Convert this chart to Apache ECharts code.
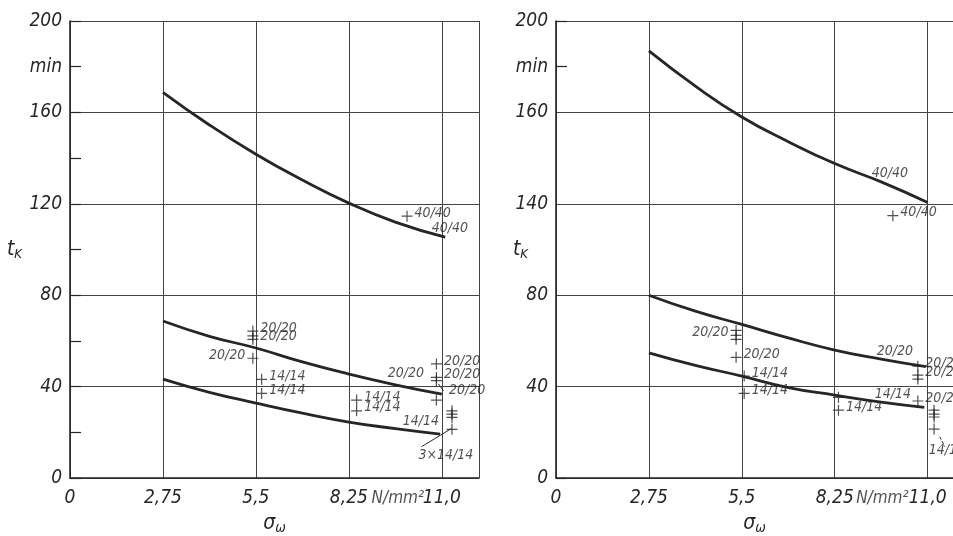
<!DOCTYPE html>
<html><head><meta charset="utf-8">
<script src="https://cdn.jsdelivr.net/npm/echarts@6/dist/echarts.min.js"></script>
<style>html,body{margin:0;padding:0;background:#fff}#c{width:953px;height:536px}</style>
</head><body><div id="c"></div>
<script>
// ---------- tick labels ----------
const xTickValues = [0, 2.75, 5.5, 8.25, 11.0];
const xTickLabels = ['0', '2,75', '5,5', '8,25', '11,0'];
const yTickValues = [0, 40, 80, 120, 160, 200];
const leftYTickLabels = ['0', '40', '80', '120', '160', '200'];
const rightYTickLabels = ['0', '40', '80', '140', '160', '200'];
const unitTickValue = 180;
const unitTickLabel = 'min';
const xUnitLabel = 'N/mm²';

// ---------- left panel ----------
const leftCurve4040 = [[2.75,168.8],[4.125,154.5],[5.5,141.7],[6.875,130.4],[8.25,120.3],[9.625,112.0],[11.1,105.4]];
const leftCurve2020 = [[2.75,68.7],[4.125,62.0],[5.5,56.9],[6.875,50.8],[8.25,45.5],[9.625,40.8],[11.0,36.7]];
const leftCurve1414 = [[2.75,43.3],[4.125,37.5],[5.5,32.8],[6.875,28.4],[8.25,24.5],[9.625,21.6],[10.95,19.2]];
// measured points: [x, y, label]
const leftPointsRight = [
  [9.97,114.6,'40/40'],
  [5.41,64.3,'20/20'],[5.41,62.2,''],[5.41,60.7,'20/20'],
  [5.67,43.2,'14/14'],[5.67,37.0,'14/14'],
  [8.48,34.1,'14/14'],[8.48,29.4,'14/14'],
  [10.84,49.9,'20/20'],[10.84,44.0,'20/20'],[10.84,42.6,''],[10.84,34.1,''],
  [11.3,29.4,''],[11.3,28.0,''],[11.3,26.5,''],[11.3,21.3,'']
];
const leftPointsLeft = [[5.41,52.4,'20/20']];
const leftNotes = [[11.24,109.3,'40/40'],[9.94,45.9,'20/20'],[10.38,24.9,'14/14'],[11.12,10.0,'3×14/14'],[11.75,38.5,'20/20']];
const leftLeaders = [[[10.4,13.7],[11.29,21.7]], [[10.9,41.2],[11.05,38.2]]];

// ---------- right panel ----------
const rightCurve4040 = [[2.75,186.9],[4.125,171.5],[5.5,158.0],[6.875,147.2],[8.25,137.6],[9.625,129.6],[11.0,120.6]];
const rightCurve2020 = [[2.75,80.0],[4.125,73.0],[5.5,67.2],[6.875,61.3],[8.25,56.0],[9.625,52.0],[10.95,48.7]];
const rightCurve1414 = [[2.75,54.8],[4.125,49.3],[5.5,44.6],[6.875,39.6],[8.25,36.3],[9.625,33.2],[10.9,30.9]];
const rightPointsRight = [
  [9.97,114.8,'40/40'],
  [5.33,52.8,'20/20'],
  [5.57,44.6,'14/14'],[5.57,37.0,'14/14'],
  [8.36,35.3,''],[8.36,29.7,'14/14'],
  [10.71,48.9,'20/20'],[10.71,45.0,'20/20'],[10.71,43.3,''],[10.71,33.7,'20/20'],
  [11.19,29.7,''],[11.19,28.0,''],[11.19,26.7,''],[11.19,21.4,'']
];
const rightPointsLeft = [[5.33,64.6,''],[5.33,62.4,'20/20'],[5.33,60.7,'']];
const rightNotes = [[9.88,133.4,'40/40'],[10.03,55.5,'20/20'],[9.97,36.7,'14/14'],[11.57,12.2,'14/14']];
const rightLeaders = [[[11.36,18.0],[11.51,13.7]]];

// ---------- styling ----------
const INK = '#262626';
const FONT = 'DejaVu Sans Condensed';
const plusPath = 'path://M0,4.45H10V5.55H0Z M4.45,0H5.55V10H4.45Z';

function xLabel(v) {
  for (let i = 0; i < xTickValues.length; i++) if (Math.abs(v - xTickValues[i]) < 1e-6) return xTickLabels[i];
  return '';
}
function yLabelFn(labels) {
  return v => { const i = yTickValues.findIndex(t => Math.abs(t - v) < 1e-6); return i >= 0 ? labels[i] : ''; };
}
const axisTextStyle = { fontFamily: FONT, fontStyle: 'italic', fontSize: 19, color: INK };

function makeXAxis(grid, max) {
  return {
    type: 'value', gridIndex: grid, min: 0, max: max, interval: 2.75,
    axisLine: { show: true, lineStyle: { color: INK, width: 1.6 } },
    axisTick: { show: false },
    splitLine: { show: true, lineStyle: { color: '#444', width: 1 } },
    axisLabel: Object.assign({ formatter: xLabel, margin: 11, showMaxLabel: true }, axisTextStyle),
    name: '{s|σ}{w|ω}', nameLocation: 'middle', nameGap: 34, nameMoveOverlap: false,
    nameTextStyle: { rich: {
      s: { fontFamily: FONT, fontStyle: 'italic', fontSize: 21, color: INK },
      w: { fontFamily: FONT, fontStyle: 'italic', fontSize: 14, color: INK, padding: [9, 0, 0, 0] }
    } }
  };
}
function makeYAxisMain(grid, labels, nameGap) {
  return {
    type: 'value', gridIndex: grid, min: 0, max: 200, interval: 40, position: 'left',
    axisLine: { show: true, lineStyle: { color: INK, width: 1.6 } },
    axisTick: { show: false },
    splitLine: { show: true, lineStyle: { color: '#444', width: 1 } },
    axisLabel: Object.assign({ formatter: yLabelFn(labels), margin: 8 }, axisTextStyle),
    name: '{t|t}{k|K}', nameLocation: 'middle', nameRotate: 0, nameGap: nameGap, nameMoveOverlap: false,
    nameTextStyle: { rich: {
      t: { fontFamily: FONT, fontStyle: 'italic', fontSize: 21, color: INK },
      k: { fontFamily: FONT, fontStyle: 'italic', fontSize: 13, color: INK, padding: [10, 0, 0, 0] }
    } }
  };
}
function makeYAxisMinor(grid, interval) {
  return {
    type: 'value', gridIndex: grid, min: 0, max: 200, interval: interval, position: 'left',
    axisLine: { show: false },
    axisTick: { show: true, inside: true, length: 11, lineStyle: { color: INK, width: 1.2 } },
    splitLine: { show: false },
    axisLabel: Object.assign({ formatter: v => Math.abs(v - unitTickValue) < 1e-6 ? unitTickLabel : '', margin: 8 }, axisTextStyle)
  };
}

function curveSeries(data, xi, yi) {
  return { type: 'line', xAxisIndex: xi, yAxisIndex: yi, data: data, smooth: 0.5,
    showSymbol: false, lineStyle: { color: INK, width: 2.8 }, z: 3, silent: true };
}
const pointLabelStyle = { fontFamily: FONT, fontStyle: 'italic', fontSize: 14, color: INK };
function pointSeries(points, xi, yi, side) {
  return { type: 'scatter', xAxisIndex: xi, yAxisIndex: yi, clip: false,
    symbol: plusPath, symbolSize: 11, itemStyle: { color: INK },
    data: points.map(p => ({ value: [p[0], p[1]], name: p[2] })),
    label: Object.assign({ show: true, position: side, distance: 2, offset: [0, -3], formatter: p => p.name }, pointLabelStyle),
    z: 4 };
}
function noteSeries(notes, xi, yi) {
  return { type: 'scatter', xAxisIndex: xi, yAxisIndex: yi, clip: false, symbolSize: 0, silent: true,
    data: notes.map(n => ({ value: [n[0], n[1]], name: n[2] })),
    label: Object.assign({ show: true, position: 'inside', formatter: p => p.name }, pointLabelStyle), z: 5 };
}
function unitSeries(xi, yi, xPos) {
  return { type: 'scatter', xAxisIndex: xi, yAxisIndex: yi, clip: false, symbolSize: 0, silent: true,
    data: [{ value: [xPos, 0], name: xUnitLabel }],
    label: Object.assign({}, axisTextStyle, { show: true, position: 'inside', offset: [0, 21], fontSize: 17, formatter: p => p.name }), z: 5 };
}
function leaderSeries(seg, xi, yi, dashed) {
  return { type: 'line', xAxisIndex: xi, yAxisIndex: yi, data: seg, showSymbol: false, silent: true,
    lineStyle: { color: INK, width: 1, type: dashed ? [3, 2] : 'solid' }, z: 4 };
}

const series = [
  curveSeries(leftCurve4040, 0, 0), curveSeries(leftCurve2020, 0, 0), curveSeries(leftCurve1414, 0, 0),
  pointSeries(leftPointsRight, 0, 0, 'right'), pointSeries(leftPointsLeft, 0, 0, 'left'),
  noteSeries(leftNotes, 0, 0), unitSeries(0, 0, 9.7),
  ...leftLeaders.map(s => leaderSeries(s, 0, 0, false)),
  curveSeries(rightCurve4040, 1, 2), curveSeries(rightCurve2020, 1, 2), curveSeries(rightCurve1414, 1, 2),
  pointSeries(rightPointsRight, 1, 2, 'right'), pointSeries(rightPointsLeft, 1, 2, 'left'),
  noteSeries(rightNotes, 1, 2), unitSeries(1, 2, 9.66),
  ...rightLeaders.map(s => leaderSeries(s, 1, 2, true))
];

const chart = echarts.init(document.getElementById('c'), null, { renderer: 'canvas' });
chart.setOption({
  backgroundColor: '#fff',
  animation: false,
  grid: [
    { left: 70, top: 21, width: 409, height: 457, outerBoundsMode: 'none' },
    { left: 556, top: 21, width: 397, height: 457, outerBoundsMode: 'none' }
  ],
  xAxis: [makeXAxis(0, 12.1), makeXAxis(1, 11.75)],
  yAxis: [makeYAxisMain(0, leftYTickLabels, 48), makeYAxisMinor(0, 20), makeYAxisMain(1, rightYTickLabels, 28), makeYAxisMinor(1, 180)],
  series: series
});
</script></body></html>
